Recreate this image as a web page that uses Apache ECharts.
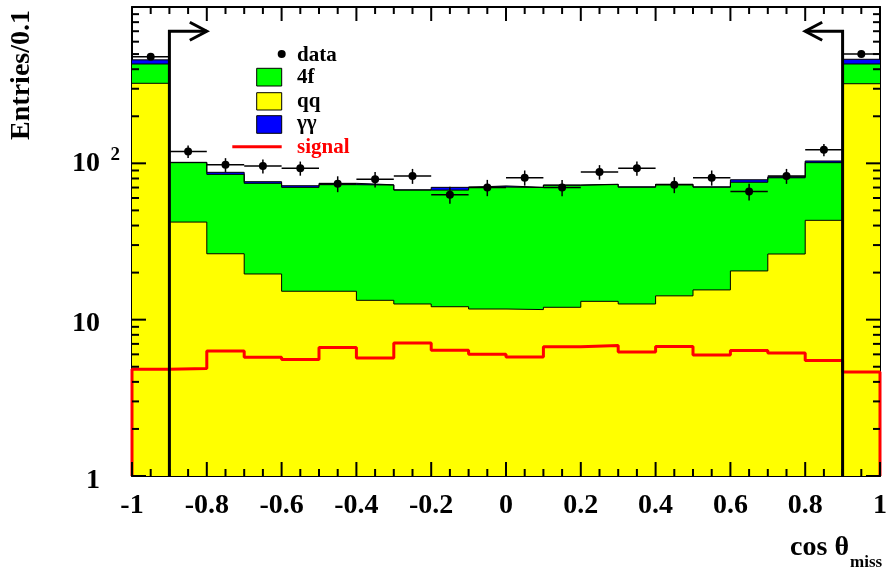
<!DOCTYPE html>
<html>
<head>
<meta charset="utf-8">
<script src="https://cdn.jsdelivr.net/npm/echarts@6/dist/echarts.min.js"></script>
<style>
  html, body { margin: 0; padding: 0; background: #fff; }
  #chart { width: 890px; height: 573px; }
</style>
</head>
<body>
<div id="chart"></div>
<script>
// Lower edges of the 20 bins in cos(theta_miss), each 0.1 wide
const binLow = [-1.0, -0.9, -0.8, -0.7, -0.6, -0.5, -0.4, -0.3, -0.2, -0.1,
                 0.0,  0.1,  0.2,  0.3,  0.4,  0.5,  0.6,  0.7,  0.8,  0.9];
const binWidth = 0.1;

// Expected entries per bin for each background component
const qq = [325, 42.1, 26.4, 19.6, 15.2, 15.2, 13.3, 12.6, 12.1, 11.7,
            11.6, 12.0, 13.1, 12.6, 14.2, 15.5, 20.5, 26.3, 43.2, 323];
const fourF = [107, 58.9, 58.6, 54.9, 55.0, 57.8, 59.3, 54.8, 55.3, 58.8,
               58.4, 60.4, 60.1, 57.8, 59.0, 54.9, 55.2, 54.5, 57.8, 109];
const gammaGamma = [27, 0.5, 2.6, 1.8, 1.7, 1.5, 0.3, 0.3, 2.8, 1.2,
                    0.3, 0.3, 0.3, 0.3, 0.3, 0.3, 2.8, 1.2, 2.5, 31];

// Signal expectation
const signal = [4.82, 4.87, 6.31, 5.75, 5.56, 6.64, 5.69, 7.10, 6.38, 6.01,
                5.78, 6.70, 6.83, 6.22, 6.73, 5.95, 6.35, 6.13, 5.48, 4.63];

// Observed events
const dataCounts = [481, 119, 98, 96, 93, 74, 79, 83, 63, 70,
                    81, 70, 88, 93, 73, 81, 66, 83, 122, 501];

// Selection cut on |cos theta_miss| and arrow ends
const cutPositions = [-0.9, 0.9];
const arrowTips = [-0.8, 0.8];
const arrowHeight = 700;

// Tick label texts of the logarithmic y axis
const yTickLabels = { 1: '{n|1}{sp| }', 10: '{n|10}{sp| }', 100: '{m|10}{s|2}' };

// Tick positions drawn inside the frame on all four sides
const xMajorTicks = [-1, -0.8, -0.6, -0.4, -0.2, 0, 0.2, 0.4, 0.6, 0.8, 1];
const xMinorTicks = [-0.95, -0.9, -0.85, -0.75, -0.7, -0.65, -0.55, -0.5, -0.45, -0.35, -0.3, -0.25,
                     -0.15, -0.1, -0.05, 0.05, 0.1, 0.15, 0.25, 0.3, 0.35, 0.45, 0.5, 0.55,
                     0.65, 0.7, 0.75, 0.85, 0.9, 0.95];
const yMajorTicks = [1, 10, 100, 1000];
const yMinorTicks = [2, 3, 4, 5, 6, 7, 8, 9, 20, 30, 40, 50, 60, 70, 80, 90,
                     200, 300, 400, 500, 600, 700, 800, 900];

const X_MIN = -1, X_MAX = 1, Y_MIN = 1, Y_MAX = 1000;
const MAJOR_LEN = 14, MINOR_LEN = 7, TICK_WIDTH = 2;
const FONT = '"Liberation Serif", "Times New Roman", serif';

// Cumulative stack: qq at the bottom, then 4f, then gamma-gamma
const stackQQ = qq.slice();
const stack4f = qq.map((v, i) => v + fourF[i]);
const stackGG = stack4f.map((v, i) => v + gammaGamma[i]);

// Points for a step histogram (horizontal first, then vertical)
function stepPoints(values) {
  const pts = binLow.map((x, i) => [x, values[i]]);
  pts.push([binLow[binLow.length - 1] + binWidth, values[values.length - 1]]);
  return pts;
}

function signalPoints(values) {
  const pts = [[binLow[0], Y_MIN]].concat(stepPoints(values));
  pts.push([binLow[binLow.length - 1] + binWidth, Y_MIN]);
  return pts;
}

const errorData = binLow.map((x, i) => [x, x + binWidth, dataCounts[i], Math.sqrt(dataCounts[i])]);
const pointData = binLow.map((x, i) => [x + binWidth / 2, dataCounts[i]]);
const cutData = cutPositions.map((x, i) => [x, arrowTips[i], arrowHeight]);

// [x, y, length, side]: side 0 = bottom/top pair, 1 = left/right pair
const tickData = []
  .concat(xMajorTicks.map(x => [x, Y_MIN, MAJOR_LEN, 0]))
  .concat(xMinorTicks.map(x => [x, Y_MIN, MINOR_LEN, 0]))
  .concat(yMajorTicks.map(y => [X_MIN, y, MAJOR_LEN, 1]))
  .concat(yMinorTicks.map(y => [X_MIN, y, MINOR_LEN, 1]));

function histLayer(name, values, color) {
  return {
    name: name,
    type: 'line',
    step: 'end',
    data: stepPoints(values),
    symbol: 'none',
    silent: true,
    lineStyle: { color: '#000', width: 1 },
    areaStyle: { color: color, opacity: 1, origin: 'start' },
    z: 2
  };
}

const axisText = { fontFamily: FONT, fontWeight: 'bold', fontSize: 28, color: '#000' };

function frameAxis(extra) {
  return Object.assign({
    axisLine: { show: true, onZero: false, lineStyle: { color: '#000', width: 2 } },
    axisTick: { show: false },
    minorTick: { show: false },
    splitLine: { show: false }
  }, extra);
}

// Titles and legend
const legendFont = { fontFamily: FONT, fontWeight: 'bold', fontSize: 21 };
const decorations = [
  { type: 'text', x: 22, y: 10, rotation: Math.PI / 2,
    style: { text: 'Entries/0.1', fontFamily: FONT, fontWeight: 'bold', fontSize: 28, fill: '#000',
             align: 'right', verticalAlign: 'middle' } },
  { type: 'text', x: 849, y: 548,
    style: { text: 'cos \u03b8', fontFamily: FONT, fontWeight: 'bold', fontSize: 28, fill: '#000',
             align: 'right', verticalAlign: 'middle' } },
  { type: 'text', x: 850, y: 563,
    style: { text: 'miss', fontFamily: FONT, fontWeight: 'bold', fontSize: 17, fill: '#000',
             align: 'left', verticalAlign: 'middle' } },
  { type: 'circle', shape: { cx: 281.7, cy: 54, r: 4 }, style: { fill: '#000' }, z: 20 },
  { type: 'text', x: 297, y: 56, z: 20,
    style: Object.assign({ text: 'data', fill: '#000', verticalAlign: 'middle' }, legendFont) },
  { type: 'rect', shape: { x: 256.7, y: 68.3, width: 25, height: 17.7 }, z: 20,
    style: { fill: '#00ff00', stroke: '#000', lineWidth: 1 } },
  { type: 'text', x: 297, y: 78, z: 20,
    style: Object.assign({ text: '4f', fill: '#000', verticalAlign: 'middle' }, legendFont) },
  { type: 'rect', shape: { x: 256.7, y: 92.7, width: 25, height: 17.3 }, z: 20,
    style: { fill: '#ffff00', stroke: '#000', lineWidth: 1 } },
  { type: 'text', x: 297, y: 102, z: 20,
    style: Object.assign({ text: 'qq', fill: '#000', verticalAlign: 'middle' }, legendFont) },
  { type: 'rect', shape: { x: 256.7, y: 115.7, width: 25, height: 17.6 }, z: 20,
    style: { fill: '#0000ff', stroke: '#000', lineWidth: 1 } },
  { type: 'text', x: 297, y: 124, z: 20,
    style: Object.assign({ text: '\u03b3\u03b3', fill: '#000', verticalAlign: 'middle' }, legendFont) },
  { type: 'line', shape: { x1: 232.3, y1: 146.7, x2: 281.7, y2: 146.7 }, z: 20,
    style: { stroke: '#ff0000', lineWidth: 3 } },
  { type: 'text', x: 297, y: 148, z: 20,
    style: Object.assign({ text: 'signal', fill: '#ff0000', verticalAlign: 'middle' }, legendFont) }
];

const chart = echarts.init(document.getElementById('chart'), null, { renderer: 'canvas' });

chart.setOption({
  animation: false,
  backgroundColor: '#fff',
  grid: { left: 132, right: 9, top: 7, bottom: 97 },
  xAxis: [
    frameAxis({ type: 'value', min: X_MIN, max: X_MAX, interval: 0.2, position: 'bottom',
                axisLabel: Object.assign({ margin: 16 }, axisText) }),
    frameAxis({ type: 'value', min: X_MIN, max: X_MAX, interval: 0.2, position: 'top',
                axisLabel: { show: false } })
  ],
  yAxis: [
    frameAxis({
      type: 'log', logBase: 10, min: Y_MIN, max: Y_MAX, position: 'left',
      axisLabel: {
        margin: 12,
        formatter: v => yTickLabels[Math.round(v)] || '',
        rich: {
          n: Object.assign({ padding: [9, 0, 0, 0] }, axisText),
          m: Object.assign({}, axisText),
          sp: { width: 20, fontSize: 10 },
          s: { fontFamily: FONT, fontWeight: 'bold', fontSize: 19, color: '#000',
               width: 20, align: 'right', padding: [0, 0, 16, 0] }
        }
      }
    }),
    frameAxis({ type: 'log', logBase: 10, min: Y_MIN, max: Y_MAX, position: 'right',
                axisLabel: { show: false } })
  ],
  series: [
    histLayer('\u03b3\u03b3', stackGG, '#0000ff'),
    histLayer('4f', stack4f, '#00ff00'),
    histLayer('qq', stackQQ, '#ffff00'),
    {
      name: 'signal', type: 'line', step: 'end', data: signalPoints(signal),
      symbol: 'none', silent: true, z: 3,
      lineStyle: { color: '#ff0000', width: 3 }
    },
    {
      name: 'cut', type: 'custom', data: cutData, silent: true, z: 4,
      encode: { x: [0, 1], y: 2 },
      renderItem: function (params, api) {
        const xc = api.value(0), xt = api.value(1), h = api.value(2);
        const base = api.coord([xc, Y_MIN]);
        const top = api.coord([xc, h]);
        const tip = api.coord([xt, h]);
        const dir = tip[0] > top[0] ? 1 : -1;
        return {
          type: 'group',
          children: [
            { type: 'polyline', shape: { points: [base, top, tip] },
              style: { stroke: '#000', lineWidth: 3, fill: 'none' } },
            { type: 'polyline', shape: { points: [[tip[0] - dir * 17, tip[1] - 9], tip, [tip[0] - dir * 17, tip[1] + 9]] },
              style: { stroke: '#000', lineWidth: 3, fill: 'none' } }
          ]
        };
      }
    },
    {
      // inner tick marks on all four sides of the frame
      name: 'ticks', type: 'custom', data: tickData, silent: true, z: 5,
      encode: { x: 0, y: 1 },
      renderItem: function (params, api) {
        const len = api.value(2);
        if (api.value(3) === 0) {
          const x = api.value(0);
          const b = api.coord([x, Y_MIN]), t = api.coord([x, Y_MAX]);
          return {
            type: 'group',
            children: [
              { type: 'line', shape: { x1: b[0], y1: b[1], x2: b[0], y2: b[1] - len }, style: { stroke: '#000', lineWidth: TICK_WIDTH } },
              { type: 'line', shape: { x1: t[0], y1: t[1], x2: t[0], y2: t[1] + len }, style: { stroke: '#000', lineWidth: TICK_WIDTH } }
            ]
          };
        }
        const y = api.value(1);
        const l = api.coord([X_MIN, y]), r = api.coord([X_MAX, y]);
        return {
          type: 'group',
          children: [
            { type: 'line', shape: { x1: l[0], y1: l[1], x2: l[0] + len, y2: l[1] }, style: { stroke: '#000', lineWidth: TICK_WIDTH } },
            { type: 'line', shape: { x1: r[0], y1: r[1], x2: r[0] - len, y2: r[1] }, style: { stroke: '#000', lineWidth: TICK_WIDTH } }
          ]
        };
      }
    },
    {
      name: 'data errors', type: 'custom', data: errorData, silent: true, z: 5,
      encode: { x: [0, 1], y: 2 },
      renderItem: function (params, api) {
        const lo = api.value(0), hi = api.value(1), y = api.value(2), e = api.value(3);
        const mid = (lo + hi) / 2;
        const a = api.coord([lo, y]), b = api.coord([hi, y]);
        const up = api.coord([mid, y + e]), dn = api.coord([mid, y - e]);
        return {
          type: 'group',
          children: [
            { type: 'line', shape: { x1: a[0], y1: a[1], x2: b[0], y2: b[1] }, style: { stroke: '#000', lineWidth: 1.5 } },
            { type: 'line', shape: { x1: up[0], y1: up[1], x2: dn[0], y2: dn[1] }, style: { stroke: '#000', lineWidth: 1.5 } }
          ]
        };
      }
    },
    {
      name: 'data', type: 'scatter', data: pointData, symbol: 'circle', symbolSize: 8,
      itemStyle: { color: '#000', opacity: 1 }, silent: true, z: 6
    }
  ],
  graphic: { elements: decorations }
});
</script>
</body>
</html>
